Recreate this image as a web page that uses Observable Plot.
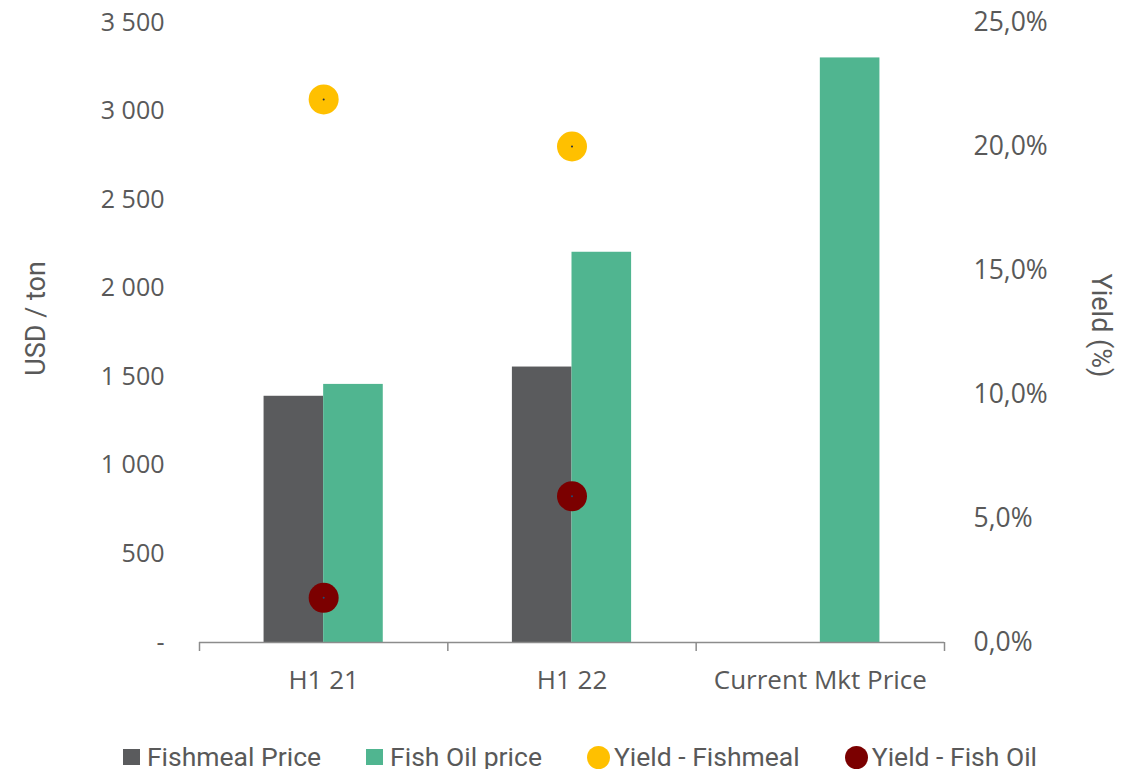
<!DOCTYPE html>
<html>
<head>
<meta charset="utf-8">
<script src="https://cdn.jsdelivr.net/npm/d3@7"></script>
<script src="https://cdn.jsdelivr.net/npm/@observablehq/plot@0.6"></script>
<style>
  body { margin: 0; background: #fff; }
  #chart { width: 1140px; }
  .legend {
    display: flex; justify-content: center; align-items: center;
    gap: 45px; margin-top: 30px; padding-left: 20px;
    font-family: Roboto, "Noto Sans", sans-serif; font-size: 26.5px; color: #595959;
    line-height: 24px; height: 24px;
  }
  .legend .item { display: flex; align-items: center; height: 24px; }
  .legend .sq { width: 17px; height: 16px; margin-right: 7px; }
  .legend .ci { width: 23px; height: 23px; border-radius: 50%; margin-right: 4px; }
</style>
</head>
<body>
<div id="chart"></div>
<script>
// Categories and series
const categories = ["H1 21", "H1 22", "Current Mkt Price"];
const fishmealPrice = [1390, 1555, null];     // USD / ton
const fishOilPrice = [1457, 2203, 3300];      // USD / ton
const yieldFishmeal = [21.9, 20.0, null];     // %
const yieldFishOil = [1.8, 5.9, null];        // %

const priceTicks = [0, 500, 1000, 1500, 2000, 2500, 3000, 3500];
const yieldTicks = [0, 5, 10, 15, 20, 25];

const seriesNames = ["Fishmeal Price", "Fish Oil price", "Yield - Fishmeal", "Yield - Fish Oil"];
const seriesColors = ["#5a5b5d", "#50b590", "#ffc000", "#7b0000"];

// Right axis (yield %) shares the price scale: 25 % ↔ 3 500
const priceMax = 3500, yieldMax = 25;
const k = priceMax / yieldMax;

const barW = 0.24; // bar width as a fraction of one category step

const fmtPrice = d => d === 0 ? "-" : d3.format(",")(d).replace(/,/g, " ");
const fmtYield = v => v.toFixed(1).replace(".", ",") + "%";

const rows = categories.map((c, i) => ({
  i, c,
  fm: fishmealPrice[i], fo: fishOilPrice[i],
  yfm: yieldFishmeal[i], yfo: yieldFishOil[i]
}));

const textColor = "#595959";
const axisColor = "#8c8c8c";

const chart = Plot.plot({
  width: 1140,
  height: 715,
  marginTop: 22,
  marginBottom: 73,
  marginLeft: 199,
  marginRight: 196,
  style: { fontFamily: "'Open Sans', sans-serif", fontSize: "25px", color: textColor, background: "#fff" },
  x: { type: "linear", domain: [-0.5, categories.length - 0.5] },
  y: { domain: [0, priceMax] },
  marks: [
    // bars
    Plot.rectY(rows.filter(d => d.fm != null), { x1: d => d.i - barW, x2: d => d.i, y: "fm", fill: seriesColors[0] }),
    Plot.rectY(rows.filter(d => d.fo != null), { x1: d => d.i, x2: d => d.i + barW, y: "fo", fill: seriesColors[1] }),
    // baseline and category boundary ticks
    Plot.ruleY([0], { stroke: axisColor, strokeWidth: 1.5 }),
    Plot.axisX({ ticks: d3.range(categories.length + 1).map(j => j - 0.5), tickFormat: () => "", tickSize: 9, stroke: axisColor, strokeWidth: 1.5, label: null }),
    Plot.axisX({ ticks: d3.range(categories.length), tickFormat: i => categories[i], tickSize: 0, tickPadding: 28, label: null, fill: textColor, fontSize: 26 }),
    // left price axis
    Plot.axisY({ ticks: priceTicks, tickFormat: fmtPrice, tickSize: 0, tickPadding: 35, label: null, fill: textColor, fontSize: 25 }),
    // right yield axis
    Plot.axisY({ anchor: "right", ticks: yieldTicks.map(v => v * k), tickFormat: v => fmtYield(v / k), tickSize: 0, tickPadding: 29, label: null, fill: textColor, fontSize: 26.5 }),
    // axis titles
    Plot.text(["USD / ton"], { frameAnchor: "left", textAnchor: "middle", dx: -163, dy: -14, rotate: -90, fontFamily: "Roboto, sans-serif", fontSize: 27, fill: textColor }),
    Plot.text(["Yield (%)"], { frameAnchor: "right", textAnchor: "middle", dx: 156, dy: -7, rotate: 90, fontFamily: "Roboto, sans-serif", fontSize: 27, fill: textColor }),
    // yield dots
    Plot.dot(rows.filter(d => d.yfm != null), { x: "i", y: d => d.yfm * k, r: 15, fill: seriesColors[2] }),
    Plot.dot(rows.filter(d => d.yfo != null), { x: "i", y: d => d.yfo * k, r: 15, fill: seriesColors[3] }),
    Plot.dot(rows.filter(d => d.yfm != null), { x: "i", y: d => d.yfm * k, r: 1, fill: "#1f2a44" }),
    Plot.dot(rows.filter(d => d.yfo != null), { x: "i", y: d => d.yfo * k, r: 1, fill: "#1f4e79" })
  ]
});

const root = document.getElementById("chart");
root.appendChild(chart);

// legend
const legend = document.createElement("div");
legend.className = "legend";
seriesNames.forEach((name, j) => {
  const item = document.createElement("div");
  item.className = "item";
  const sw = document.createElement("span");
  sw.className = j < 2 ? "sq" : "ci";
  sw.style.background = seriesColors[j];
  const label = document.createElement("span");
  label.textContent = name;
  item.appendChild(sw);
  item.appendChild(label);
  legend.appendChild(item);
});
root.appendChild(legend);
</script>
</body>
</html>
